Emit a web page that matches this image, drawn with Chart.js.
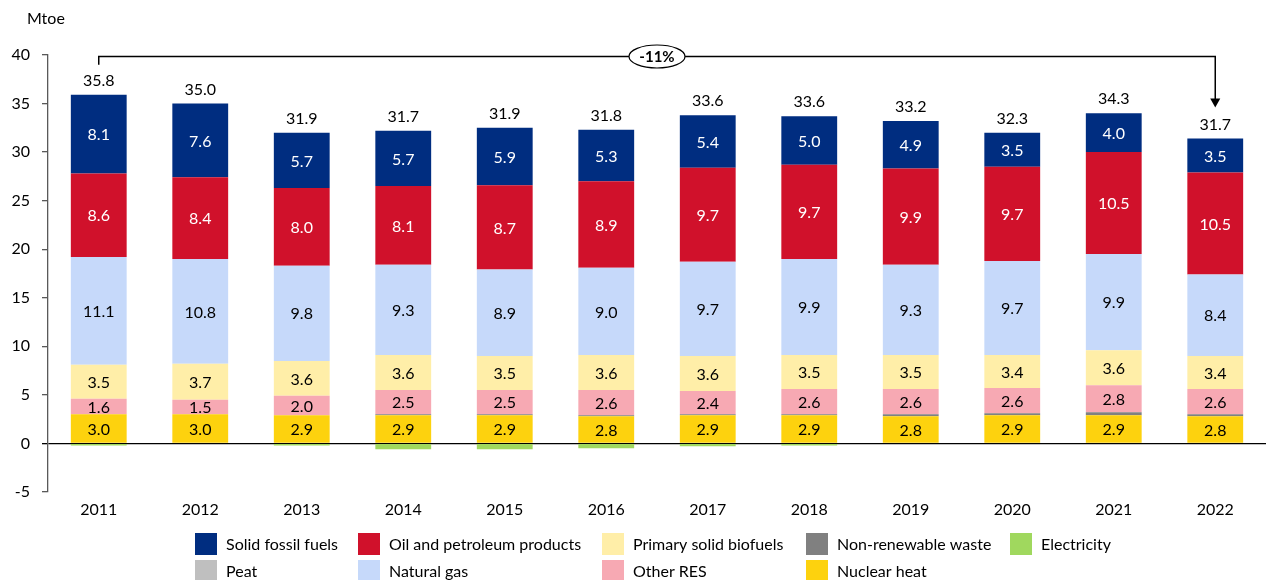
<!DOCTYPE html>
<html><head><meta charset="utf-8">
<script src="https://cdn.jsdelivr.net/npm/chart.js@4/dist/chart.umd.min.js"></script>
<style>html,body{margin:0;padding:0;background:#fff}#wrap{width:1268px;height:580px;position:relative}</style>
</head><body><div id="wrap"><canvas id="c" width="1268" height="580"></canvas></div>
<script>
const years = ['2011','2012','2013','2014','2015','2016','2017','2018','2019','2020','2021','2022'];
const nuclearHeat = [3.0,3.0,2.9,2.9,2.9,2.8,2.9,2.9,2.8,2.9,2.9,2.8];
const nonRenewableWaste = [0.0,0.0,0.0,0.1,0.1,0.1,0.1,0.1,0.2,0.2,0.3,0.2];
const peat = [0,0,0,0,0,0,0,0,0,0,0,0];
const otherRES = [1.6,1.5,2.0,2.5,2.5,2.6,2.4,2.6,2.6,2.6,2.8,2.6];
const primarySolidBiofuels = [3.5,3.7,3.6,3.6,3.5,3.6,3.6,3.5,3.5,3.4,3.6,3.4];
const naturalGas = [11.1,10.8,9.8,9.3,8.9,9.0,9.7,9.9,9.3,9.7,9.9,8.4];
const oilPetroleum = [8.6,8.4,8.0,8.1,8.7,8.9,9.7,9.7,9.9,9.7,10.5,10.5];
const solidFossil = [8.1,7.6,5.7,5.7,5.9,5.3,5.4,5.0,4.9,3.5,4.0,3.5];
const electricity = [-0.2,0.0,-0.2,-0.6,-0.6,-0.5,-0.3,-0.2,0.0,0.0,0.0,0.0];
const totals = [35.8,35.0,31.9,31.7,31.9,31.8,33.6,33.6,33.2,32.3,34.3,31.7];
const yTicks = [-5,0,5,10,15,20,25,30,35,40];
const changeLabel = '-11%';
const yUnit = 'Mtoe';

const FONT = 'Lato, "Liberation Sans", sans-serif';

const datasets = [
  {label:'Nuclear heat', data:nuclearHeat, backgroundColor:'#FDD20E', showValues:true, labelColor:'#000'},
  {label:'Non-renewable waste', data:nonRenewableWaste, backgroundColor:'#808080'},
  {label:'Peat', data:peat, backgroundColor:'#BFBFBF'},
  {label:'Other RES', data:otherRES, backgroundColor:'#F7A9B3', showValues:true, labelColor:'#000'},
  {label:'Primary solid biofuels', data:primarySolidBiofuels, backgroundColor:'#FFEEA8', showValues:true, labelColor:'#000'},
  {label:'Natural gas', data:naturalGas, backgroundColor:'#C6D9FA', showValues:true, labelColor:'#000'},
  {label:'Oil and petroleum products', data:oilPetroleum, backgroundColor:'#D0112B', showValues:true, labelColor:'#fff'},
  {label:'Solid fossil fuels', data:solidFossil, backgroundColor:'#002D80', showValues:true, labelColor:'#fff', isTop:true},
  {label:'Electricity', data:electricity, backgroundColor:'#A0D85E'}
];

const legendOrder = ['Solid fossil fuels','Oil and petroleum products','Primary solid biofuels','Non-renewable waste','Electricity','Peat','Natural gas','Other RES','Nuclear heat'];

const labelPlugin = {
  id:'valueLabels',
  afterDatasetsDraw(chart){
    const ctx = chart.ctx;
    ctx.save();
    ctx.textAlign='center'; ctx.textBaseline='middle';
    ctx.font = '16px ' + FONT;
    chart.data.datasets.forEach((ds,i)=>{
      if(!ds.showValues) return;
      const meta = chart.getDatasetMeta(i);
      meta.data.forEach((bar,j)=>{
        const p = bar.getProps(['x','y','base'], true);
        ctx.fillStyle = ds.labelColor;
        ctx.fillText(ds.data[j].toFixed(1), p.x, (p.y + p.base)/2 + 1);
      });
    });
    const topIdx = chart.data.datasets.findIndex(d=>d.isTop);
    const topMeta = chart.getDatasetMeta(topIdx);
    ctx.fillStyle = '#000';
    topMeta.data.forEach((bar,j)=>{
      const p = bar.getProps(['x','y'], true);
      ctx.fillText(totals[j].toFixed(1), p.x, p.y - 14);
    });
    const ys = chart.scales.y;
    const first = topMeta.data[0].getProps(['x','y'], true);
    const last = topMeta.data[topMeta.data.length-1].getProps(['x','y'], true);
    const lineY = ys.getPixelForValue(40) + 1.5;
    ctx.strokeStyle = '#000'; ctx.lineWidth = 1.5;
    ctx.beginPath();
    ctx.moveTo(first.x, first.y - 30);
    ctx.lineTo(first.x, lineY);
    ctx.lineTo(last.x, lineY);
    ctx.lineTo(last.x, last.y - 39);
    ctx.stroke();
    ctx.fillStyle = '#000';
    ctx.beginPath();
    ctx.moveTo(last.x - 5, last.y - 40);
    ctx.lineTo(last.x + 5, last.y - 40);
    ctx.lineTo(last.x, last.y - 31);
    ctx.closePath(); ctx.fill();
    const cx = (first.x + last.x)/2;
    ctx.fillStyle = '#fff';
    ctx.beginPath();
    ctx.ellipse(cx, lineY, 28, 11.5, 0, 0, Math.PI*2);
    ctx.fill(); ctx.lineWidth = 1.2; ctx.stroke();
    ctx.fillStyle = '#000';
    ctx.font = 'bold 15px ' + FONT;
    ctx.fillText(changeLabel, cx, lineY + 1);
    ctx.font = '16px ' + FONT;
    ctx.textAlign = 'left';
    ctx.fillText(yUnit, 27, 19);
    ctx.restore();
  }
};

const legendPlugin = {
  id:'gridLegend',
  afterDraw(chart){
    const ctx = chart.ctx;
    const cols = [195, 358, 602, 806, 1010];
    const rows = [544, 571];
    ctx.save();
    ctx.font = '16px ' + FONT;
    ctx.textAlign = 'left'; ctx.textBaseline = 'middle';
    legendOrder.forEach((name,k)=>{
      const ds = chart.data.datasets.find(d=>d.label===name);
      const col = k < 5 ? k : k - 5;
      const row = k < 5 ? 0 : 1;
      const x = cols[col], y = rows[row];
      ctx.fillStyle = ds.backgroundColor;
      ctx.fillRect(x, y - 11, 22, 22);
      ctx.fillStyle = '#000';
      ctx.fillText(name, x + 31, y + 1);
    });
    ctx.restore();
  }
};

new Chart(document.getElementById('c'), {
  type:'bar',
  data:{labels:years, datasets:datasets},
  options:{
    responsive:false,
    devicePixelRatio:1,
    animation:false,
    layout:{padding:{top:55, bottom:58, left:0, right:2}},
    datasets:{bar:{barPercentage:0.55, categoryPercentage:1.0, borderWidth:0}},
    plugins:{legend:{display:false}, tooltip:{enabled:false}, title:{display:false}},
    scales:{
      x:{
        stacked:true,
        grid:{display:false, drawTicks:false},
        border:{display:false},
        ticks:{color:'#000', font:{family:FONT, size:16}, padding:8},
        afterFit(s){ s.height = 30; }
      },
      y:{
        stacked:true,
        min:-5, max:40,
        afterBuildTicks(s){ s.ticks = yTicks.map(v=>({value:v})); },
        grid:{
          drawOnChartArea:true,
          color:c=> (c.tick && c.tick.value===0) ? '#000' : 'rgba(0,0,0,0)',
          tickColor:c=> (c.tick && c.tick.value===0) ? '#000' : '#595959',
          tickLength:6, lineWidth:1.3
        },
        border:{display:true, color:'#595959', width:1.3},
        ticks:{color:'#000', font:{family:FONT, size:16}, padding:12},
        afterFit(s){ s.width = 48; }
      }
    }
  },
  plugins:[labelPlugin, legendPlugin]
});
</script></body></html>
